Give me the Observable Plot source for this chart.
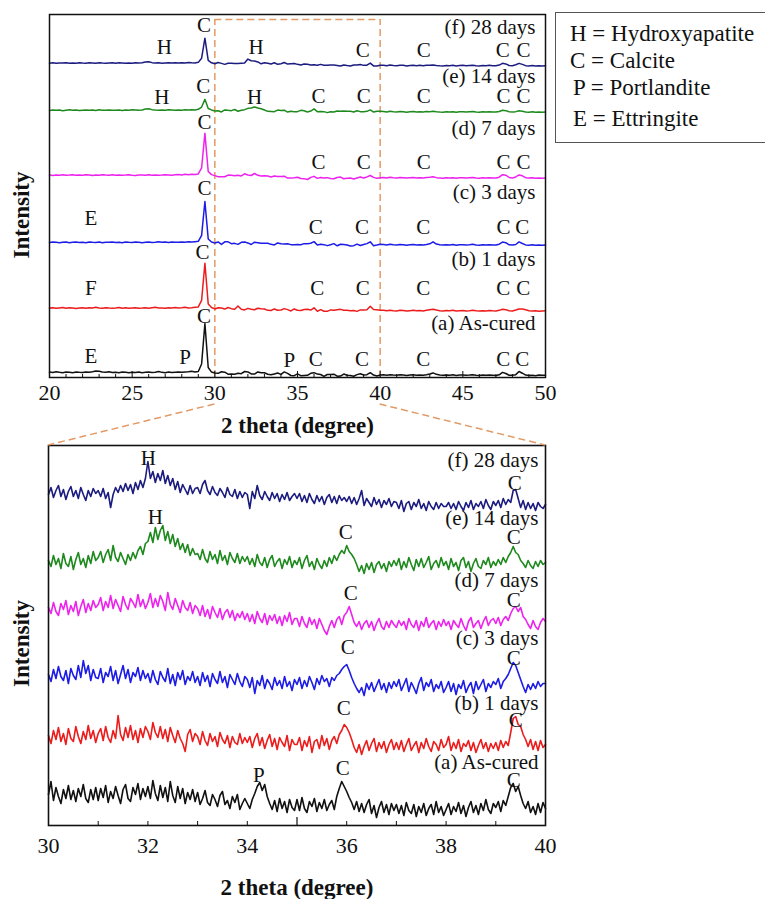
<!DOCTYPE html>
<html><head><meta charset="utf-8">
<script src="https://cdn.jsdelivr.net/npm/d3@7"></script>
<script src="https://cdn.jsdelivr.net/npm/@observablehq/plot@0.6"></script>
<style>
body{margin:0;background:#fff;}
#wrap{position:relative;width:765px;height:899px;overflow:hidden;font-family:"Liberation Serif","Tinos","Times New Roman","Nimbus Roman","DejaVu Serif",serif;background:#fff;}
#top{position:absolute;left:0;top:0;}
#bot{position:absolute;left:0;top:440px;}
#over{position:absolute;left:0;top:0;pointer-events:none;}
#legend{position:absolute;left:555px;top:12px;width:211px;height:131px;border:1px solid #555;box-sizing:border-box;}
.lg{position:absolute;font-size:23px;line-height:23px;white-space:nowrap;color:#111;}
</style></head><body>
<div id="wrap">
  <div id="top"></div>
  <div id="bot"></div>
  <div id="legend">
    <div class="lg" style="left:14px;top:9px">H = Hydroxyapatite</div>
    <div class="lg" style="left:14px;top:36px">C = Calcite</div>
    <div class="lg" style="left:17px;top:63px">P = Portlandite</div>
    <div class="lg" style="left:17px;top:94px">E = Ettringite</div>
  </div>
</div>
<script>
// ---------- categories ----------
const samples = ["a", "b", "c", "d", "e", "f"];
const sampleNames = ["(a) As-cured", "(b) 1 days", "(c) 3 days", "(d) 7 days", "(e) 14 days", "(f) 28 days"];
const sampleColors = ["#111111", "#ec1c1c", "#1c1ce6", "#ee22ee", "#1e8a1e", "#1c1c80"];
const offsetTop = [0, 450, 910, 1380, 1835, 2165];
const offsetBottom = [0, 60, 120, 185, 235, 300];
const topTicks = [20, 25, 30, 35, 40, 45, 50];
const bottomTicks = [30, 32, 34, 36, 38, 40];

// ---------- wide scan 20.0-29.8 (step 0.2) ----------
const lowA = [38,35,40,36,34,39,37,33,38,36, 35,39,37,41,46,43,38,36,40,35, 37,34,38,36,33,37,35,39,34,36, 38,35,37,42,36,34,38,35,37,39, 36,38,40,44,39,42,95,378,70,38];
const lowB = [36,39,34,37,40,35,38,36,33,37, 39,35,38,36,41,37,34,38,36,35, 37,40,35,38,34,37,39,35,36,38, 35,38,41,36,37,34,39,37,40,36, 38,41,37,39,42,44,90,350,65,40];
const lowC = [35,38,36,33,37,39,34,36,38,35, 37,34,39,36,35,38,33,37,36,39, 35,37,34,38,36,35,39,37,34,36, 38,35,37,40,36,38,35,39,37,36, 39,37,40,38,41,43,85,322,60,38];
const lowD = [37,34,38,36,39,35,37,40,36,38, 35,39,37,34,38,36,40,37,35,39, 36,38,35,37,40,36,34,38,37,35, 39,36,38,35,37,40,38,36,39,41, 38,42,40,43,41,45,88,329,62,40];
const lowE = [34,37,35,38,33,36,39,35,37,34, 36,38,35,37,34,39,36,35,38,36, 35,37,34,38,36,39,37,35,38,44, 46,40,37,35,38,36,39,37,35,38, 36,39,37,40,38,42,58,112,48,38];
const lowF = [35,38,34,37,36,39,35,37,34,38, 36,35,39,37,34,38,36,35,37,39, 35,38,36,34,37,35,39,36,38,43, 45,39,36,38,35,37,39,36,38,37, 39,36,40,38,37,41,70,210,55,38];

// ---------- wide scan 40.2-50.0 (step 0.2) ----------
const highA = [19,16,20,17,15,19,18,14,17,19, 16,18,15,19,24,32,22,17,15,18, 16,19,14,17,18,15,17,20,16,14, 17,15,18,16,14,19,36,28,16,15, 20,42,30,17,14,16,13,17,15,16];
const highB = [20,17,21,18,16,20,19,15,18,20, 17,19,16,20,24,28,22,18,16,19, 17,20,15,18,19,16,18,21,17,15, 18,16,19,17,16,20,28,25,17,16, 22,30,29,24,17,15,18,14,16,17];
const highC = [21,18,22,19,17,21,20,16,19,21, 18,20,17,21,26,40,24,19,17,20, 18,21,16,19,20,17,19,22,18,16, 19,17,20,18,17,23,38,34,19,17, 21,39,28,18,16,19,15,18,16,17];
const highD = [20,17,21,18,16,20,19,16,18,20, 17,19,16,20,22,25,19,17,15,18, 16,19,15,18,19,16,18,20,17,15, 18,16,19,17,16,22,40,36,20,17, 24,38,32,19,16,18,15,17,15,16];
const highE = [27,24,28,25,23,27,26,22,25,27, 24,26,23,27,26,29,25,23,22,25, 23,26,22,25,26,23,25,27,24,22, 25,23,26,24,23,27,36,33,25,23, 26,32,28,24,22,25,21,24,22,23];
const highF = [21,18,22,19,17,21,20,16,19,21, 18,20,17,21,20,23,19,17,16,19, 17,20,16,19,20,17,19,21,18,16, 19,17,20,18,17,22,34,30,19,17, 24,34,27,18,16,19,15,18,16,17];

// ---------- fine scan 30.00-40.00 (step 0.05), one row per degree ----------
const fineA = [
 31,44,25,38,29,22,36,27,40,26,35,24,37,29,41,27,23,36,26,38,
 25,37,28,40,23,34,27,39,30,22,36,41,27,24,38,31,42,26,37,29,
 39,27,45,32,25,40,28,38,24,44,30,23,39,27,37,22,33,26,36,24,
 33,21,27,35,23,20,31,26,19,30,34,21,25,17,29,23,31,16,22,27,
 22,17,26,32,39,43,35,41,29,22,16,25,14,27,17,24,13,26,18,15,
 26,15,28,17,13,24,19,27,14,23,17,26,15,21,25,16,29,37,44,39,
 34,28,23,16,24,14,22,13,21,26,12,20,8,18,24,13,21,11,22,15,
 21,12,20,10,23,15,12,21,9,19,13,22,10,17,21,11,24,13,19,10,
 16,22,11,19,14,23,12,20,9,18,24,13,20,11,22,15,26,16,12,22,
 18,24,14,25,20,29,38,42,34,39,30,22,17,24,13,19,11,22,13,23,
 17];
const fineB = [
 30,22,35,26,38,24,32,21,37,27,24,39,29,22,34,26,40,27,35,23,
 32,37,25,39,28,23,35,27,50,31,25,38,28,40,26,35,23,37,28,39,
 34,26,43,33,28,39,27,36,24,38,30,23,35,27,22,14,31,36,24,32,
 29,21,34,25,20,32,24,29,19,33,26,22,30,18,29,23,21,32,22,28,
 23,29,18,27,32,20,28,17,25,31,19,27,16,28,23,19,30,15,26,21,
 21,28,15,25,19,29,13,24,26,17,30,20,27,16,25,29,22,31,35,41,
 38,33,26,18,13,21,11,19,25,15,22,27,14,23,17,24,13,21,26,16,
 23,16,25,14,21,27,15,20,24,13,23,17,27,19,14,24,21,15,26,18,
 21,29,15,23,17,26,14,22,19,25,15,23,13,20,26,17,23,14,22,17,
 23,15,25,18,24,20,33,47,49,41,39,31,26,19,26,16,24,15,25,18,
 21];
const fineC = [
 31,24,36,27,39,29,25,35,22,37,30,26,40,28,45,32,40,25,36,28,
 27,37,23,33,29,39,25,35,22,31,40,27,36,23,33,29,38,25,35,27,
 32,23,35,26,21,34,28,24,37,22,31,20,33,26,35,21,29,25,34,23,
 29,20,33,24,30,19,32,26,22,34,23,29,18,31,26,21,32,24,19,29,
 26,18,28,12,25,20,30,17,26,22,16,28,20,25,17,29,19,24,15,26,
 21,28,17,25,19,29,23,16,27,21,30,24,27,19,28,25,30,32,36,39,
 41,35,28,22,17,13,18,10,22,16,23,14,20,26,16,22,13,23,17,24,
 19,26,15,21,27,14,23,18,12,22,28,15,23,19,26,14,21,17,24,13,
 18,24,14,22,11,21,17,25,13,19,23,12,24,16,21,26,14,22,18,24,
 21,27,17,24,27,31,37,43,40,33,26,19,13,21,16,22,17,24,19,22,
 22];
const fineD = [
 33,27,38,29,25,37,31,40,26,35,29,39,25,34,41,28,37,30,40,33,
 36,43,30,39,33,45,32,41,35,29,44,36,31,42,38,33,46,34,41,32,
 38,47,33,42,34,45,39,30,48,36,31,42,35,28,40,33,30,38,27,35,
 32,25,35,24,31,22,34,28,23,32,21,28,31,23,30,20,27,23,29,21,
 27,19,26,17,29,22,18,27,16,25,20,26,17,24,15,25,19,28,16,22,
 22,14,24,17,13,23,16,21,12,22,16,10,6,14,20,13,21,24,16,25,
 28,34,26,18,14,19,11,17,20,13,19,10,17,22,14,11,19,13,20,16,
 13,20,15,19,11,22,16,13,20,10,19,14,23,13,17,20,11,19,14,21,
 15,19,11,20,16,13,22,15,10,19,23,13,17,20,12,19,24,15,20,22,
 17,23,15,21,24,20,27,32,34,29,33,24,21,16,12,20,14,11,18,22,
 19];
const fineE = [
 30,24,35,26,32,22,37,27,24,34,21,31,38,26,32,23,35,27,39,30,
 33,39,28,36,41,30,45,33,29,38,32,26,36,30,38,32,40,44,36,47,
 49,58,48,63,51,60,65,50,59,47,56,44,52,41,47,38,46,35,42,36,
 37,31,41,32,28,39,31,36,27,40,30,35,26,38,32,28,37,27,34,29,
 34,26,32,24,36,28,25,33,23,31,35,24,29,32,22,31,26,34,23,30,
 26,33,22,30,35,24,29,21,32,26,22,30,24,33,27,35,30,36,40,37,
 45,39,36,32,26,19,25,17,27,21,28,18,26,29,22,27,19,29,24,30,
 25,32,21,29,23,33,26,20,31,24,32,23,28,34,21,27,30,23,33,25,
 29,21,32,24,28,20,30,33,23,29,19,27,32,24,22,30,26,33,23,29,
 25,31,26,33,28,34,38,44,38,36,30,27,23,30,25,22,29,24,30,26,
 28];
const fineF = [
 31,38,28,35,40,29,36,26,34,39,29,35,27,38,31,25,35,29,37,32,
 35,29,37,27,33,18,31,38,33,40,34,42,35,41,32,43,36,45,38,47,
 64,47,54,43,52,45,55,42,50,40,47,36,44,33,41,36,31,40,32,37,
 38,32,41,45,35,31,39,33,30,37,33,28,38,31,29,36,27,34,28,33,
 31,17,34,27,40,30,26,34,29,25,33,27,32,24,31,26,33,25,29,32,
 27,32,24,30,23,32,26,22,30,24,29,21,28,31,23,29,22,30,25,28,
 24,29,22,28,21,27,35,20,27,23,19,28,21,26,18,25,21,27,19,24,
 23,17,25,14,22,24,16,23,19,26,17,22,15,24,19,16,23,17,22,19,
 19,23,17,22,16,24,19,15,23,18,25,16,22,19,24,17,26,20,16,24,
 20,25,18,27,21,26,23,35,36,27,18,25,16,23,17,22,15,23,19,17,
 21];

// ---------- annotations ----------
const topLetters = [
 {x:29.35, y:2464, t:"C"}, {x:26.95, y:2310, t:"H"}, {x:32.5, y:2310, t:"H"},
 {x:38.95, y:2289, t:"C"}, {x:42.63, y:2289, t:"C"}, {x:47.42, y:2289, t:"C"}, {x:48.67, y:2289, t:"C"},
 {x:29.3, y:2037, t:"C"}, {x:26.8, y:1960, t:"H"}, {x:32.4, y:1960, t:"H"},
 {x:36.27, y:1970, t:"C"}, {x:39.0, y:1970, t:"C"}, {x:42.63, y:1970, t:"C"}, {x:47.46, y:1970, t:"C"}, {x:48.67, y:1970, t:"C"},
 {x:29.38, y:1785, t:"C"},
 {x:36.27, y:1505, t:"C"}, {x:39.0, y:1505, t:"C"}, {x:42.63, y:1505, t:"C"}, {x:47.46, y:1505, t:"C"}, {x:48.67, y:1505, t:"C"},
 {x:29.38, y:1323, t:"C"}, {x:22.5, y:1113, t:"E"},
 {x:36.1, y:1050, t:"C"}, {x:38.9, y:1050, t:"C"}, {x:42.6, y:1050, t:"C"}, {x:47.46, y:1050, t:"C"}, {x:48.6, y:1050, t:"C"},
 {x:29.25, y:875, t:"C"}, {x:22.5, y:623, t:"F"},
 {x:36.2, y:623, t:"C"}, {x:38.95, y:623, t:"C"}, {x:42.6, y:623, t:"C"}, {x:47.45, y:623, t:"C"}, {x:48.65, y:623, t:"C"},
 {x:29.35, y:427, t:"C"}, {x:22.5, y:147, t:"E"}, {x:28.2, y:140, t:"P"}, {x:34.5, y:119, t:"P"},
 {x:36.1, y:126, t:"C"}, {x:38.9, y:126, t:"C"}, {x:42.6, y:126, t:"C"}, {x:47.45, y:126, t:"C"}, {x:48.6, y:126, t:"C"}
];
const topNameY = [378, 826, 1295, 1743, 2107, 2450];
const bottomLetters = [
 {x:32.01, y:367, t:"H"}, {x:39.38, y:342, t:"C"},
 {x:32.15, y:308, t:"H"}, {x:35.98, y:293, t:"C"}, {x:39.36, y:288, t:"C"},
 {x:36.08, y:232, t:"C"}, {x:39.36, y:225, t:"C"},
 {x:36.02, y:178, t:"C"}, {x:39.36, y:167, t:"C"},
 {x:35.94, y:117, t:"C"}, {x:39.4, y:105, t:"C"},
 {x:34.23, y:50, t:"P"}, {x:35.92, y:57, t:"C"}, {x:39.36, y:45, t:"C"}
];
const bottomNameY = [63, 122, 187, 245, 307, 365];

// ---------- build tables ----------
const lows = [lowA, lowB, lowC, lowD, lowE, lowF];
const highs = [highA, highB, highC, highD, highE, highF];
const fines = [fineA, fineB, fineC, fineD, fineE, fineF];

const topRows = [];
samples.forEach((s, k) => {
  const mid = fines[k].filter((_, i) => i % 4 === 0);
  const series = [...lows[k], ...mid, ...highs[k]];
  series.forEach((v, i) => topRows.push({sample: s, x: +(20 + 0.2 * i).toFixed(2), y: offsetTop[k] + v}));
});
const bottomRows = [];
samples.forEach((s, k) => {
  fines[k].forEach((v, i) => bottomRows.push({sample: s, x: +(30 + 0.05 * i).toFixed(2), y: offsetBottom[k] + v}));
});
const topNames = samples.map((s, k) => ({sample: s, name: sampleNames[k], y: topNameY[k]}));
const bottomNames = samples.map((s, k) => ({sample: s, name: sampleNames[k], y: bottomNameY[k]}));

const dashColor = "#e39a66";
const font = "'Liberation Serif', 'Tinos', 'Times New Roman', 'Nimbus Roman', 'DejaVu Serif', serif";

const topPlot = Plot.plot({
  width: 560, height: 440,
  marginLeft: 49, marginRight: 15, marginTop: 14, marginBottom: 63,
  style: {fontFamily: font, fontSize: "22px", color: "#111", background: "transparent"},
  x: {domain: [20, 50]},
  y: {domain: [0, 2541], axis: null},
  color: {domain: samples, range: sampleColors},
  marks: [
    Plot.ruleX([30, 40], {y1: 0, y2: 2506, stroke: dashColor, strokeWidth: 1.5, strokeDasharray: "7,4"}),
    Plot.ruleY([2506], {x1: 30, x2: 40, stroke: dashColor, strokeWidth: 1.5, strokeDasharray: "7,4"}),
    Plot.line(topRows, {x: "x", y: "y", z: "sample", stroke: "sample", strokeWidth: 1.5}),
    Plot.ruleX(d3.range(21, 50).filter(d => d % 5 !== 0), {y1: 0, y2: 21, stroke: "#111", strokeWidth: 1}),
    Plot.ruleX([25, 30, 35, 40, 45], {y1: 0, y2: 42, stroke: "#111", strokeWidth: 1}),
    Plot.frame({stroke: "#111", strokeWidth: 1.5}),
    Plot.axisX({ticks: topTicks, tickSize: 0, tickPadding: 7, fontSize: 22, label: null, tickFormat: d => String(d)}),
    Plot.text(topLetters, {x: "x", y: "y", text: "t", fontSize: 21, fill: "#111"}),
    Plot.text(topNames, {x: () => 50, y: "y", text: "name", dx: -10, textAnchor: "end", fontSize: 21, fill: "#111"}),
    Plot.text(["2 theta (degree)"], {frameAnchor: "bottom", textAnchor: "middle", lineAnchor: "middle", dy: 48, fontSize: 23, fontWeight: "bold", fill: "#111"}),
    Plot.text(["Intensity"], {frameAnchor: "left", textAnchor: "middle", lineAnchor: "middle", rotate: -90, dx: -28, dy: 19, fontSize: 23, fontWeight: "bold", fill: "#111"})
  ]
});
document.getElementById("top").appendChild(topPlot);

const botPlot = Plot.plot({
  width: 560, height: 459,
  marginLeft: 48, marginRight: 15, marginTop: 5, marginBottom: 74,
  style: {fontFamily: font, fontSize: "22px", color: "#111", background: "transparent"},
  x: {domain: [30, 40]},
  y: {domain: [0, 380], axis: null},
  color: {domain: samples, range: sampleColors},
  marks: [
    Plot.line(bottomRows, {x: "x", y: "y", z: "sample", stroke: "sample", strokeWidth: 1.6}),
    Plot.ruleX([31, 32, 33, 34, 36, 37, 38, 39], {y1: 0, y2: 4, stroke: "#111", strokeWidth: 1}),
    Plot.ruleX([35], {y1: 0, y2: 8, stroke: "#111", strokeWidth: 1.2}),
    Plot.frame({stroke: "#111", strokeWidth: 1.6}),
    Plot.axisX({ticks: bottomTicks, tickSize: 0, tickPadding: 12, fontSize: 22, label: null, tickFormat: d => String(d)}),
    Plot.text(bottomLetters, {x: "x", y: "y", text: "t", fontSize: 21, fill: "#111"}),
    Plot.text(bottomNames, {x: () => 40, y: "y", text: "name", dx: -7, textAnchor: "end", fontSize: 21, fill: "#111"}),
    Plot.text(["2 theta (degree)"], {frameAnchor: "bottom", textAnchor: "middle", lineAnchor: "middle", dy: 62, fontSize: 23, fontWeight: "bold", fill: "#111"}),
    Plot.text(["Intensity"], {frameAnchor: "left", textAnchor: "middle", lineAnchor: "middle", rotate: -90, dx: -27, dy: 8, fontSize: 23, fontWeight: "bold", fill: "#111"})
  ]
});
document.getElementById("bot").appendChild(botPlot);

// ---------- connector lines from the zoom box to the lower panel ----------
const tx = topPlot.scale("x"), ty = topPlot.scale("y");
const bx = botPlot.scale("x"), by = botPlot.scale("y");
const botTopOffset = 440;
const links = [
  [tx.apply(30), ty.apply(0) + 27, bx.apply(30), botTopOffset + by.apply(380)],
  [tx.apply(40), ty.apply(0) + 27, bx.apply(40), botTopOffset + by.apply(380)]
];
const over = d3.select("#wrap").append("svg").attr("id", "over").attr("width", 765).attr("height", 899);
over.selectAll("line").data(links).join("line")
  .attr("x1", d => d[0]).attr("y1", d => d[1]).attr("x2", d => d[2]).attr("y2", d => d[3])
  .attr("stroke", dashColor).attr("stroke-width", 1.5).attr("stroke-dasharray", "7,4");
</script>
</body></html>
